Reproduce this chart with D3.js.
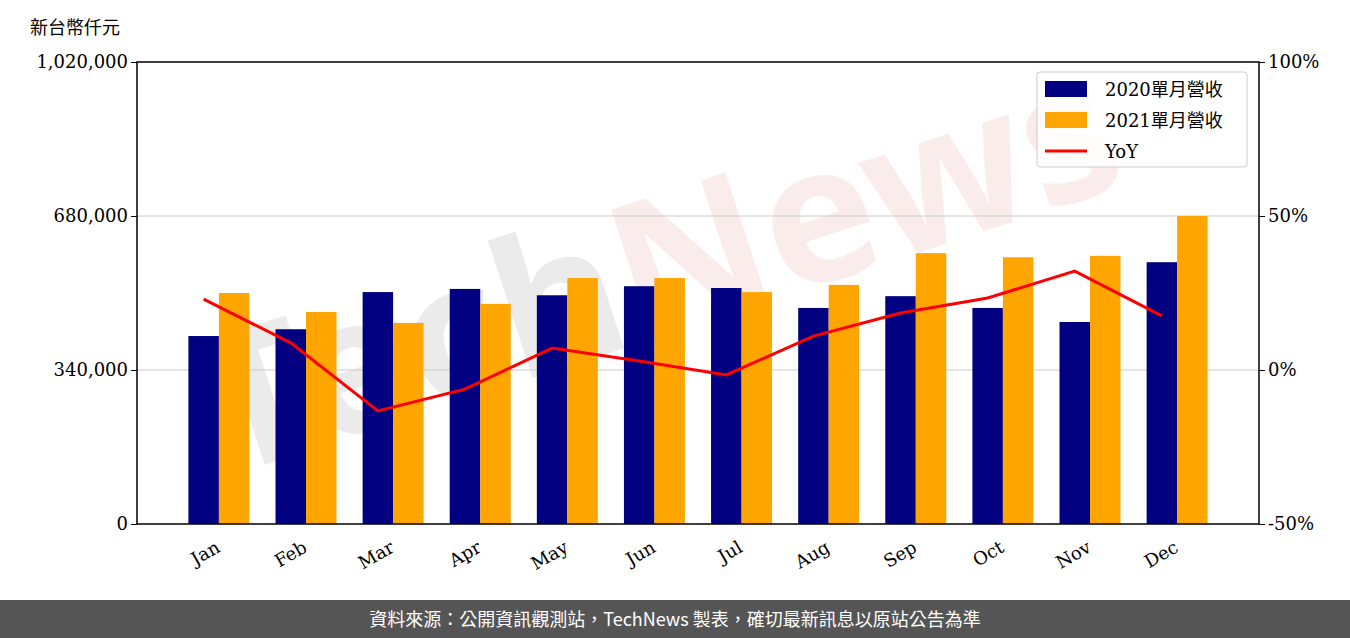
<!DOCTYPE html>
<html><head><meta charset="utf-8">
<script src="https://cdn.jsdelivr.net/npm/d3@7"></script>
<style>body{margin:0;background:#fff}</style>
</head><body>
<svg id="chart" width="1350" height="638"></svg>
<script>
// chart data
const months = ["Jan","Feb","Mar","Apr","May","Jun","Jul","Aug","Sep","Oct","Nov","Dec"];
const rev2020 = [415000,430000,512000,519000,505000,525000,521000,477000,503000,477000,446000,578000];
const rev2021 = [510000,468000,444000,486000,543000,543000,512000,528000,598000,589000,592000,680000];
const yoy = [23.0,8.8,-13.3,-6.2,7.1,2.9,-1.6,11.0,18.5,23.4,32.1,17.6];
const leftTicks = [0,340000,680000,1020000];
const rightTicks = [-50,0,50,100];

const svg = d3.select("#chart");
const m = {l:137, r:1259, t:62, b:524};
const serif = "DejaVu Serif";

// index scale (matplotlib-like x limits)
const x = d3.scaleLinear().domain([-0.94, 11.94]).range([m.l, m.r]);
const y = d3.scaleLinear().domain([0,1020000]).range([m.b, m.t]);
const y2 = d3.scaleLinear().domain([-50,100]).range([m.b, m.t]);
const bw = x(0.35) - x(0);

// watermark
const wm = svg.append("text").attr("x",680).attr("y",330).attr("text-anchor","middle")
  .attr("transform","rotate(-18,680,330)")
  .attr("font-family","Noto Sans").attr("font-weight","bold").attr("font-size",190);
wm.append("tspan").attr("fill","#999").attr("fill-opacity",0.2).text("Tech");
wm.append("tspan").attr("fill","#e06060").attr("fill-opacity",0.12).text("News");

// grid
svg.append("g").selectAll("line").data(leftTicks.slice(1,3)).join("line")
  .attr("x1",m.l).attr("x2",m.r).attr("y1",d=>y(d)).attr("y2",d=>y(d))
  .attr("stroke","#cccccc").attr("stroke-width",1.2);

svg.append("g").selectAll("rect").data(rev2020).join("rect")
  .attr("x",(d,i)=>x(i)-bw).attr("width",bw)
  .attr("y",d=>y(d)).attr("height",d=>m.b-y(d)).attr("fill","#000080");
svg.append("g").selectAll("rect").data(rev2021).join("rect")
  .attr("x",(d,i)=>x(i)).attr("width",bw)
  .attr("y",d=>y(d)).attr("height",d=>m.b-y(d)).attr("fill","#ffa500");

const line = d3.line().x((d,i)=>x(i)-bw/2).y(d=>y2(d));
svg.append("path").datum(yoy).attr("d",line).attr("fill","none")
  .attr("stroke","red").attr("stroke-width",3);

// frame
svg.append("rect").attr("x",m.l).attr("y",m.t).attr("width",m.r-m.l).attr("height",m.b-m.t)
  .attr("fill","none").attr("stroke","#000").attr("stroke-width",1.5);

const fmt = d3.format(",");
const la = svg.append("g").attr("transform",`translate(${m.l},0)`)
  .call(d3.axisLeft(y).tickValues(leftTicks).tickFormat(fmt).tickSize(6));
const ra = svg.append("g").attr("transform",`translate(${m.r},0)`)
  .call(d3.axisRight(y2).tickValues(rightTicks).tickFormat(d=>d+"%").tickSize(6));
[la,ra].forEach(a=>{a.select(".domain").remove();
  a.selectAll("text").attr("font-family",serif).attr("font-size",18).attr("fill","#000");});

svg.append("g").selectAll("text").data(months).join("text")
  .attr("font-family",serif).attr("font-size",18).attr("text-anchor","end")
  .attr("transform",(d,i)=>`translate(${x(i)-4},${m.b+16}) rotate(-30)`)
  .attr("dy","0.7em").text(d=>d);

svg.append("text").attr("x",30).attr("y",34).attr("font-family","Noto Sans CJK TC")
  .attr("font-size",18).text("新台幣仟元");

// legend
const lg = svg.append("g").attr("transform","translate(1037,72)");
lg.append("rect").attr("width",210).attr("height",95).attr("rx",3).attr("fill","#fff")
  .attr("fill-opacity",0.85).attr("stroke","#ccc");
const items = [["2020單月營收","#000080","bar"],["2021單月營收","#ffa500","bar"],["YoY","red","line"]];
items.forEach((it,i)=>{
  const cy = 17+i*31;
  if(it[2]==="bar") lg.append("rect").attr("x",8).attr("y",cy-8).attr("width",42).attr("height",16).attr("fill",it[1]);
  else lg.append("line").attr("x1",8).attr("x2",50).attr("y1",cy).attr("y2",cy).attr("stroke",it[1]).attr("stroke-width",3);
  lg.append("text").attr("x",68).attr("y",cy+7).attr("font-family",serif+", Noto Sans CJK TC")
    .attr("font-size",18).text(it[0]);
});

// footer
svg.append("rect").attr("x",0).attr("y",600).attr("width",1350).attr("height",38).attr("fill","#555");
svg.append("text").attr("x",675).attr("y",626).attr("text-anchor","middle").attr("fill","#fff")
  .attr("font-family","Noto Sans CJK TC").attr("font-size",18)
  .text("資料來源：公開資訊觀測站，TechNews 製表，確切最新訊息以原站公告為準");
</script>
</body></html>
